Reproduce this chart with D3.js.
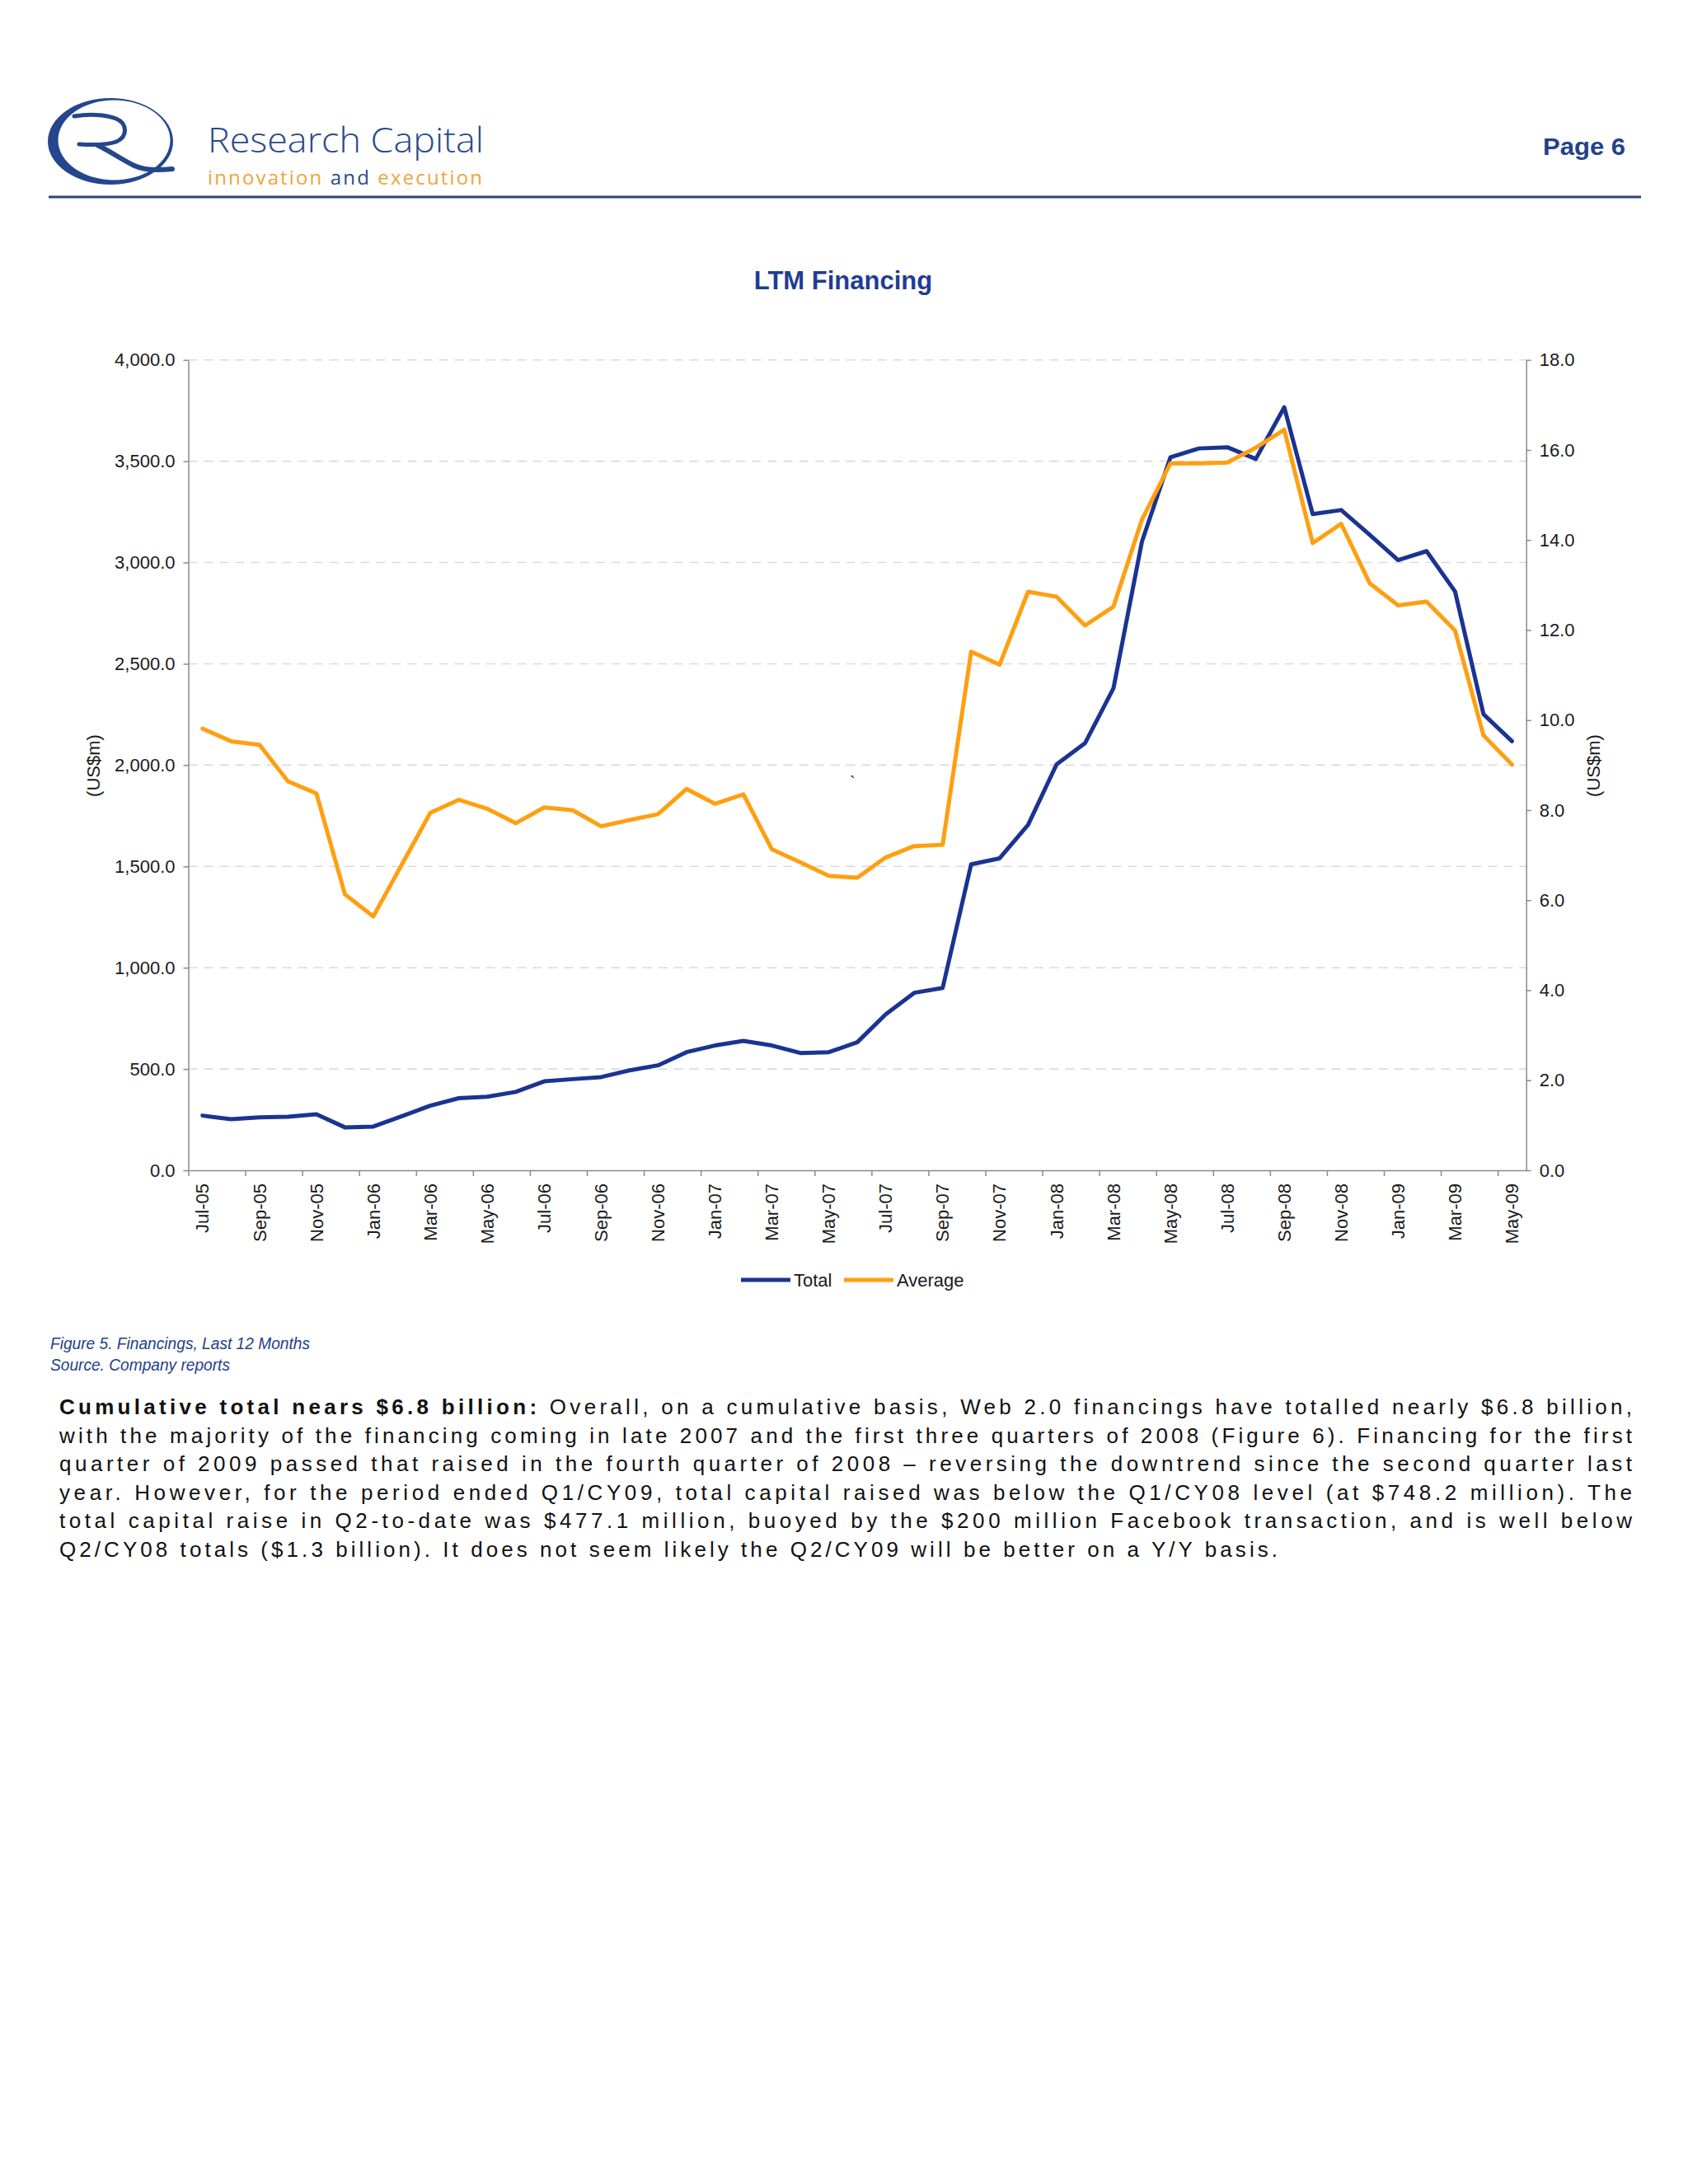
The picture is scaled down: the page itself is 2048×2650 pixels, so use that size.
<!DOCTYPE html>
<html>
<head>
<meta charset="utf-8">
<script src="https://cdn.jsdelivr.net/npm/d3@7"></script>
<style>
  html, body { margin: 0; padding: 0; background: #ffffff; }
  svg { display: block; }
</style>
</head>
<body>
<div id="chart"></div>
<script>
// ---------------- DATA ----------------
const months = [
  "Jul-05","Aug-05","Sep-05","Oct-05","Nov-05","Dec-05",
  "Jan-06","Feb-06","Mar-06","Apr-06","May-06","Jun-06","Jul-06","Aug-06","Sep-06","Oct-06","Nov-06","Dec-06",
  "Jan-07","Feb-07","Mar-07","Apr-07","May-07","Jun-07","Jul-07","Aug-07","Sep-07","Oct-07","Nov-07","Dec-07",
  "Jan-08","Feb-08","Mar-08","Apr-08","May-08","Jun-08","Jul-08","Aug-08","Sep-08","Oct-08","Nov-08","Dec-08",
  "Jan-09","Feb-09","Mar-09","Apr-09","May-09"
];
// Total LTM financing (US$m, left axis)
const totalValues = [
  270, 252, 261, 264, 277, 212, 216, 267, 319, 356, 363, 387, 439, 450, 460, 493, 518,
  583, 616, 639, 616, 579, 583, 632, 770, 876, 900, 1510, 1540, 1705, 2003, 2108,
  2379, 3103, 3519, 3563, 3569, 3511, 3766, 3239, 3259, 3137, 3012, 3056, 2857, 2251, 2118
];
// Average deal size (US$m, right axis)
const averageValues = [
  9.81, 9.53, 9.45, 8.64, 8.37, 6.13, 5.64, 6.79, 7.94, 8.23, 8.03, 7.71, 8.06, 8.00, 7.64, 7.78, 7.91,
  8.47, 8.14, 8.35, 7.13, 6.84, 6.54, 6.50, 6.95, 7.20, 7.23,
  11.52, 11.23, 12.85, 12.74, 12.10, 12.52, 14.45, 15.70, 15.70, 15.72, 16.05, 16.45,
  13.93, 14.36, 13.04, 12.55, 12.63, 11.99, 9.66, 9.01
];
const leftTicks = [0, 500, 1000, 1500, 2000, 2500, 3000, 3500, 4000];
const rightTicks = [0, 2, 4, 6, 8, 10, 12, 14, 16, 18];
const seriesNames = ["Total", "Average"];

const bodyLines = [
  "with the majority of the financing coming in late 2007 and the first three quarters of 2008 (Figure 6). Financing for the first",
  "quarter of 2009 passed that raised in the fourth quarter of 2008 \u2013 reversing the downtrend since the second quarter last",
  "year. However, for the period ended Q1/CY09, total capital raised was below the Q1/CY08 level (at $748.2 million). The",
  "total capital raise in Q2-to-date was $477.1 million, buoyed by the $200 million Facebook transaction, and is well below",
  "Q2/CY08 totals ($1.3 billion). It does not seem likely the Q2/CY09 will be better on a Y/Y basis."
];
const bodyLead = "Cumulative total nears $6.8 billion:";
const bodyFirstRest = " Overall, on a cumulative basis, Web 2.0 financings have totalled nearly $6.8 billion,";

// ---------------- LAYOUT ----------------
const W = 2048, H = 2650;
const plot = { left: 228.5, right: 1851.7, top: 436.7, bottom: 1420 };
const NAVY = "#1f3c94";
const BLUE = "#1b3391";
const ORANGE = "#ff9f10";
const AXIS = "#8a8a8a";
const FONT = "'Liberation Sans', Arial, Helvetica, sans-serif";
const LOGO = "#24468c";

const svg = d3.select("#chart").append("svg")
  .attr("width", W).attr("height", H)
  .style("font-family", FONT);

svg.append("rect").attr("width", W).attr("height", H).attr("fill", "#ffffff");

// ---------------- HEADER ----------------
function ellipsePath(cx, cy, rx, ry) {
  return `M${cx - rx},${cy} a${rx},${ry} 0 1,0 ${2 * rx},0 a${rx},${ry} 0 1,0 ${-2 * rx},0 Z`;
}
const logo = svg.append("g");
logo.append("path")
  .attr("d", ellipsePath(134, 171.5, 76, 52.5) + " " + ellipsePath(138.5, 170, 68, 48.5))
  .attr("fill", LOGO).attr("fill-rule", "evenodd");
// the "R" strokes
logo.append("path")
  .attr("d", "M90,141 C108,138 128,139 141,144 C155,150 155,166 141,172 C130,176 112,176 96,175")
  .attr("fill", "none").attr("stroke", LOGO).attr("stroke-width", 5).attr("stroke-linecap", "round");
logo.append("path")
  .attr("d", "M118,176 C133,183 148,194 163,201 C176,207 192,207 209,205")
  .attr("fill", "none").attr("stroke", LOGO).attr("stroke-width", 6).attr("stroke-linecap", "round");

svg.append("text")
  .attr("x", 252).attr("y", 185)
  .attr("font-family", "'Open Sans', 'Noto Sans', sans-serif")
  .attr("font-weight", 300)
  .attr("font-size", 42)
  .attr("fill", "#2a4a8a")
  .attr("textLength", 335).attr("lengthAdjust", "spacingAndGlyphs")
  .text("Research Capital");

const tag = svg.append("text")
  .attr("x", 252).attr("y", 224)
  .attr("font-family", "'Open Sans', 'Noto Sans', sans-serif")
  .attr("font-weight", 400)
  .attr("font-size", 24)
  .attr("textLength", 333).attr("lengthAdjust", "spacing");
tag.append("tspan").attr("fill", "#f0a43c").text("innovation ");
tag.append("tspan").attr("fill", "#2a4a8a").text("and ");
tag.append("tspan").attr("fill", "#f0a43c").text("execution");

svg.append("text")
  .attr("x", 1972).attr("y", 188)
  .attr("text-anchor", "end")
  .attr("font-size", 30).attr("font-weight", 700)
  .attr("fill", "#23418a")
  .attr("textLength", 100).attr("lengthAdjust", "spacingAndGlyphs")
  .text("Page 6");

svg.append("rect")
  .attr("x", 59).attr("y", 237.5).attr("width", 1932).attr("height", 3)
  .attr("fill", "#2a4478");

// ---------------- CHART TITLE ----------------
svg.append("text")
  .attr("x", 1023).attr("y", 351)
  .attr("text-anchor", "middle")
  .attr("font-size", 31).attr("font-weight", 700)
  .attr("fill", NAVY)
  .text("LTM Financing");

// ---------------- SCALES ----------------
const x = d3.scaleBand().domain(months).range([plot.left, plot.right]).paddingInner(0).paddingOuter(0);
const xIdx = d3.scaleLinear().domain([0, months.length]).range([plot.left, plot.right]);
const xc = d => x(d) + x.bandwidth() / 2;
const yL = d3.scaleLinear().domain([0, 4000]).range([plot.bottom, plot.top]);
const yR = d3.scaleLinear().domain([0, 18]).range([plot.bottom, plot.top]);

// gridlines
svg.append("g").selectAll("line")
  .data(leftTicks.filter(v => v > 0))
  .join("line")
  .attr("x1", plot.left).attr("x2", plot.right)
  .attr("y1", d => yL(d)).attr("y2", d => yL(d))
  .attr("stroke", "#dadada").attr("stroke-width", 1.6)
  .attr("stroke-dasharray", "11,8");

// left axis
const gL = svg.append("g").attr("transform", `translate(${plot.left},0)`)
  .call(d3.axisLeft(yL).tickValues(leftTicks).tickFormat(d3.format(",.1f")).tickSize(6).tickSizeOuter(0).tickPadding(10));
// right axis
const gR = svg.append("g").attr("transform", `translate(${plot.right},0)`)
  .call(d3.axisRight(yR).tickValues(rightTicks).tickFormat(d3.format(".1f")).tickSize(6).tickSizeOuter(0).tickPadding(10));
[gL, gR].forEach(g => {
  g.select(".domain").attr("stroke", AXIS).attr("stroke-width", 1.5);
  g.selectAll(".tick line").attr("stroke", AXIS).attr("stroke-width", 1.5);
  g.selectAll(".tick text").attr("font-size", 22).attr("fill", "#1a1a1a").attr("font-family", FONT);
});

// x axis: ticks at category boundaries every 2 months, labels centered
const gX = svg.append("g").attr("transform", `translate(0,${plot.bottom})`)
  .call(d3.axisBottom(xIdx).tickValues(d3.range(0, months.length, 2)).tickFormat("").tickSize(7).tickSizeOuter(0));
gX.select(".domain").attr("stroke", AXIS).attr("stroke-width", 1.5);
gX.selectAll(".tick line").attr("stroke", AXIS).attr("stroke-width", 1.5);

svg.append("g").selectAll("text")
  .data(months.filter((m, i) => i % 2 === 0))
  .join("text")
  .attr("transform", d => `translate(${xc(d)},${plot.bottom + 16}) rotate(-90)`)
  .attr("text-anchor", "end")
  .attr("dy", "0.35em")
  .attr("font-size", 22).attr("fill", "#1a1a1a")
  .text(d => d);

// axis titles
svg.append("text")
  .attr("transform", `translate(113,929) rotate(-90)`)
  .attr("text-anchor", "middle").attr("dy", "0.35em")
  .attr("font-size", 22).attr("fill", "#1a1a1a")
  .text("(US$m)");
svg.append("text")
  .attr("transform", `translate(1933,929) rotate(-90)`)
  .attr("text-anchor", "middle").attr("dy", "0.35em")
  .attr("font-size", 22).attr("fill", "#1a1a1a")
  .text("(US$m)");

// stray mark in the original image
svg.append("text").attr("x", 1031).attr("y", 956).attr("font-size", 20).attr("fill", "#222").text("`");

// ---------------- LINES ----------------
const lineTotal = d3.line().x((d, i) => xc(months[i])).y(d => yL(d));
const lineAvg = d3.line().x((d, i) => xc(months[i])).y(d => yR(d));
svg.append("path").datum(totalValues)
  .attr("d", lineTotal).attr("fill", "none")
  .attr("stroke", BLUE).attr("stroke-width", 5).attr("stroke-linejoin", "round").attr("stroke-linecap", "round");
svg.append("path").datum(averageValues)
  .attr("d", lineAvg).attr("fill", "none")
  .attr("stroke", ORANGE).attr("stroke-width", 5).attr("stroke-linejoin", "round").attr("stroke-linecap", "round");

// ---------------- LEGEND ----------------
const legendItems = [
  { name: seriesNames[0], color: BLUE, x0: 899, x1: 959, tx: 963 },
  { name: seriesNames[1], color: ORANGE, x0: 1024, x1: 1084, tx: 1088 }
];
const lg = svg.append("g");
legendItems.forEach(it => {
  lg.append("line").attr("x1", it.x0).attr("x2", it.x1).attr("y1", 1553).attr("y2", 1553)
    .attr("stroke", it.color).attr("stroke-width", 5);
  lg.append("text").attr("x", it.tx).attr("y", 1561).attr("font-size", 22).attr("fill", "#1a1a1a").text(it.name);
});

// ---------------- CAPTION ----------------
svg.append("text")
  .attr("x", 61).attr("y", 1637)
  .attr("font-size", 20).attr("font-style", "italic").attr("fill", "#23418a")
  .attr("font-family", "'Liberation Sans Narrow', 'Arial Narrow', " + FONT)
  .attr("textLength", 315).attr("lengthAdjust", "spacingAndGlyphs")
  .text("Figure 5. Financings, Last 12 Months");
svg.append("text")
  .attr("x", 61).attr("y", 1663)
  .attr("font-size", 20).attr("font-style", "italic").attr("fill", "#23418a")
  .attr("font-family", "'Liberation Sans Narrow', 'Arial Narrow', " + FONT)
  .attr("textLength", 218).attr("lengthAdjust", "spacingAndGlyphs")
  .text("Source. Company reports");

// ---------------- BODY TEXT ----------------
const bodyX = 72, bodyRight = 1980, lineGap = 34.5, firstBase = 1716, bodySize = 26;
const t0 = svg.append("text")
  .attr("x", bodyX).attr("y", firstBase)
  .attr("font-size", bodySize).attr("fill", "#111")
  .attr("textLength", bodyRight - bodyX).attr("lengthAdjust", "spacing");
t0.append("tspan").attr("font-weight", 700).text(bodyLead);
t0.append("tspan").text(bodyFirstRest);

bodyLines.forEach((ln, i) => {
  const last = i === bodyLines.length - 1;
  svg.append("text")
    .attr("x", bodyX).attr("y", firstBase + lineGap * (i + 1))
    .attr("font-size", bodySize).attr("fill", "#111")
    .attr("textLength", last ? 1478 : bodyRight - bodyX).attr("lengthAdjust", "spacing")
    .text(ln);
});
</script>
</body>
</html>
